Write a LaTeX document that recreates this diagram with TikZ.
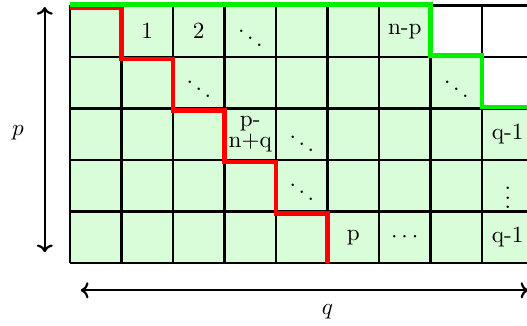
\documentclass[tikz,border=0pt]{standalone}
\usetikzlibrary{arrows.meta}
\definecolor{cellgreen}{RGB}{217,252,217}
\definecolor{pathred}{RGB}{255,0,0}
\definecolor{pathgreen}{RGB}{0,240,0}
\tikzset{
  gridline/.style={line width=1.3pt, black},
  redpath/.style={line width=2.4pt, pathred},
  greenpath/.style={line width=2.4pt, pathgreen},
  dimarrow/.style={line width=1.2pt, black, <->},
  celltext/.style={inner sep=0pt, font=\fontsize{10}{6.6}\selectfont, scale=1.28, transform shape},
}
\begin{document}
\begin{tikzpicture}[x=1cm,y=1cm]
\useasboundingbox (-1.359,-1.204) rectangle (8.874,5.107);
\clip (-1.359,-1.204) rectangle (8.874,5.107);
% light green region
\fill[cellgreen] (0,0) -- (0,5) -- (7,5) -- (7,4) -- (8,4) -- (8,3) -- (10,3) -- (10,0) -- cycle;
% grid
\draw[gridline] (0,0) grid (10,5);
% red staircase
\draw[redpath] (0,4.95) -- (1,4.95) -- (1,3.96) -- (2,3.96) -- (2,2.96) -- (3,2.96) -- (3,1.96) -- (4,1.96) -- (4,0.96) -- (5,0.96) -- (5,0);
% green staircase
\draw[greenpath] (0,5.02) -- (7,5.02) -- (7,4.03) -- (8,4.03) -- (8,3.03) -- (10,3.03);
% labels in cells
\node[celltext] (c1) at (1.5,4.5) {1};
\node[celltext] (c2) at (2.5,4.5) {2};
\node[celltext] (d1) at (3.5,4.5) {$\ddots$};
\node[celltext] (np) at (6.5,4.5) {n-p};
\node[celltext] (d2) at (2.5,3.5) {$\ddots$};
\node[celltext] (d3) at (7.5,3.5) {$\ddots$};
\node[celltext, align=center] (pnq) at (3.5,2.5) {p-\\n+q};
\node[celltext] (d4) at (4.5,2.45) {$\ddots$};
\node[celltext] (q1a) at (8.5,2.5) {q-1};
\node[celltext] (d5) at (4.5,1.5) {$\ddots$};
\node[celltext] (v1) at (8.5,1.4) {$\vdots$};
\node[celltext] (pp) at (5.5,0.5) {p};
\node[celltext] (h1) at (6.5,0.5) {$\cdots$};
\node[celltext] (q1b) at (8.5,0.5) {q-1};
% dimension arrows
\coordinate (pa) at (-0.49,0.21);
\coordinate (pb) at (-0.49,4.97);
\draw[dimarrow] (pa) -- (pb);
\node[celltext] (plab) at (-1.01,2.52) {$p$};
\coordinate (qa) at (0.21,-0.53);
\coordinate (qb) at (8.9,-0.53);
\draw[dimarrow] (qa) -- (qb);
\node[celltext] (qlab) at (5.0,-0.95) {$q$};
\end{tikzpicture}
\end{document}
